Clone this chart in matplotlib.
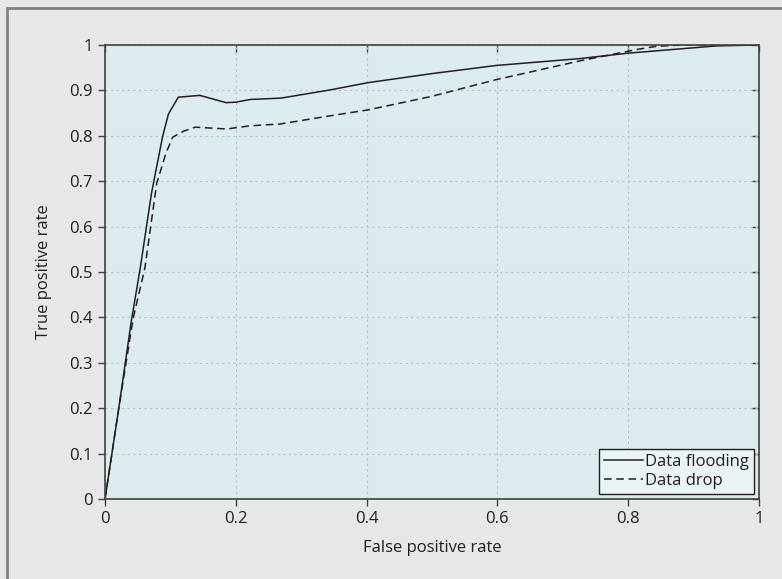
import matplotlib
matplotlib.use("Agg")
import matplotlib.pyplot as plt
from matplotlib.lines import Line2D

plt.rcParams['font.family'] = ['Open Sans', 'DejaVu Sans']

# ROC curves
flood_fpr = [0, 0.02, 0.04, 0.054, 0.071, 0.088, 0.097, 0.112, 0.145, 0.185, 0.200,
             0.222, 0.269, 0.344, 0.402, 0.5, 0.599, 0.726, 0.80, 0.935, 1.0]
flood_tpr = [0, 0.19, 0.39, 0.51, 0.673, 0.798, 0.848, 0.885, 0.889, 0.873, 0.874,
             0.880, 0.883, 0.901, 0.917, 0.937, 0.955, 0.970, 0.982, 0.998, 1.0]

drop_fpr = [0, 0.02, 0.043, 0.061, 0.079, 0.093, 0.1035, 0.12, 0.138, 0.186, 0.222,
            0.268, 0.344, 0.402, 0.5, 0.599, 0.726, 0.813, 0.843, 0.88, 1.0]
drop_tpr = [0, 0.19, 0.398, 0.509, 0.695, 0.761, 0.797, 0.81, 0.819, 0.815, 0.822,
            0.826, 0.844, 0.857, 0.887, 0.924, 0.965, 0.990, 0.997, 1.0, 1.0]

x_ticks = [0, 0.2, 0.4, 0.6, 0.8, 1]
x_labels = ['0', '0.2', '0.4', '0.6', '0.8', '1']
y_ticks = [0, 0.1, 0.2, 0.3, 0.4, 0.5, 0.6, 0.7, 0.8, 0.9, 1]
y_labels = ['0', '0.1', '0.2', '0.3', '0.4', '0.5', '0.6', '0.7', '0.8', '0.9', '1']

text_col = '#231f20'
fs = 12
fig = plt.figure(figsize=(7.82, 5.79), dpi=100, facecolor='#e6e7e8')
ax = fig.add_axes([0.1343, 0.1382, 0.8363, 0.7841], facecolor='#dcebed')

ax.plot(flood_fpr, flood_tpr, color='#231f20', lw=1.1, label='Data flooding')
ax.plot(drop_fpr, drop_tpr, color='#231f20', lw=1.1, linestyle=(0, (5, 3)), label='Data drop')

ax.set_xlim(0, 1)
ax.set_ylim(0, 1)
ax.set_xticks(x_ticks)
ax.set_xticklabels(x_labels)
ax.set_yticks(y_ticks)
ax.set_yticklabels(y_labels)
ax.tick_params(direction='out', length=5, width=1, colors='#404040',
               labelcolor=text_col, labelsize=fs, pad=4)
ax.grid(True, color='#bcc0c2', linestyle=(0, (2, 3)), linewidth=0.8)
for s in ax.spines.values():
    s.set_color('#404040')
    s.set_linewidth(1.2)

# inward ticks on top and right
top = ax.secondary_xaxis('top')
top.set_xticks(x_ticks)
top.tick_params(direction='in', length=5, width=1, colors='#404040', labeltop=False)
top.spines['top'].set_visible(False)
right = ax.secondary_yaxis('right')
right.set_yticks(y_ticks)
right.tick_params(direction='in', length=5, width=1, colors='#404040', labelright=False)
right.spines['right'].set_visible(False)

ax.set_xlabel('False positive rate', fontsize=fs, color=text_col, labelpad=9)
ax.set_ylabel('True positive rate', fontsize=fs, color=text_col, labelpad=12)

leg = ax.legend(loc='lower right', fontsize=fs, handlelength=2.3, handletextpad=0.15,
                borderpad=0.3, labelspacing=0.2, fancybox=False, framealpha=1,
                borderaxespad=0.3, facecolor='#eaf4f6', edgecolor='#231f20')
leg.get_frame().set_linewidth(1.0)
for t in leg.get_texts():
    t.set_color(text_col)

# outer frame: top and left edge
fig.add_artist(Line2D([0.009, 1], [0.987, 0.987], transform=fig.transFigure, color='#808285', lw=2))
fig.add_artist(Line2D([0.009, 0.009], [0, 0.987], transform=fig.transFigure, color='#808285', lw=2))

fig.savefig('out.png', dpi=100, facecolor=fig.get_facecolor())
